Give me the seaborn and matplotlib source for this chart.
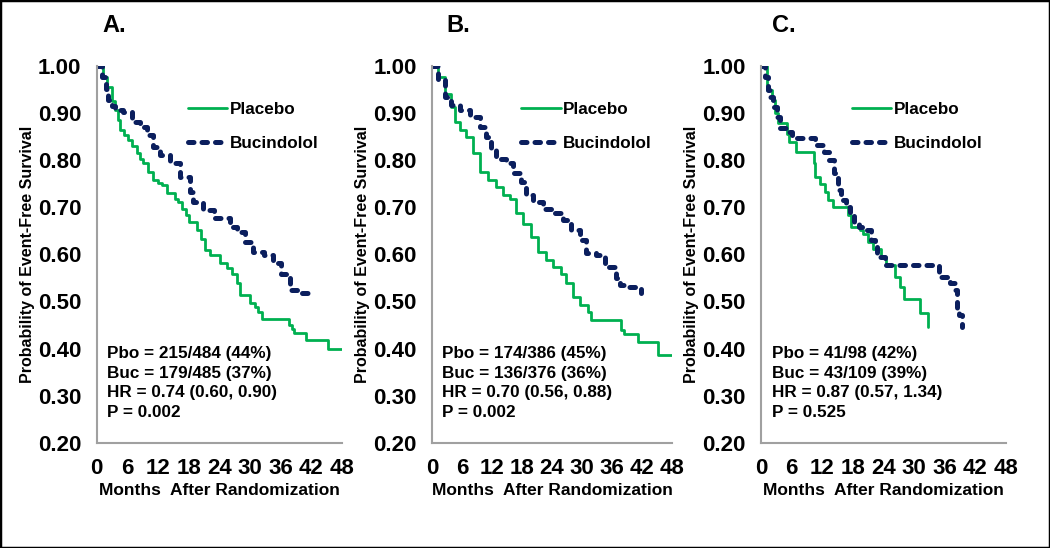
import matplotlib
matplotlib.use("Agg")
import matplotlib.pyplot as plt
import seaborn as sns
import pandas as pd
from matplotlib.patches import Rectangle

# Kaplan-Meier readings (month, survival) per panel
pbo_a_t = [0, 1.2, 2.0, 3.0, 3.6, 4.2, 4.6, 5.4, 6.2, 7.0, 7.8, 8.5, 9.1, 10.0, 11.1, 12.0, 12.7, 13.7,
           15.3, 16.0, 16.7, 17.4, 18.0, 19.6, 20.4, 21.2, 22.2, 24.2, 25.5, 26.5, 27.4, 28.1, 30.0,
           31.0, 31.7, 32.3, 37.6, 38.2, 38.6, 41.0, 45.4, 48.0]
pbo_a_s = [1.0, 0.977, 0.955, 0.925, 0.906, 0.885, 0.863, 0.853, 0.842, 0.830, 0.814, 0.803, 0.793,
           0.775, 0.757, 0.752, 0.747, 0.729, 0.718, 0.710, 0.697, 0.683, 0.669, 0.651, 0.632, 0.609,
           0.598, 0.581, 0.570, 0.559, 0.538, 0.513, 0.496, 0.488, 0.478, 0.462, 0.450, 0.441, 0.434,
           0.419, 0.399, 0.399]
buc_a_t = [0, 1.0, 1.8, 2.3, 3.0, 3.6, 5.2, 6.9, 8.5, 9.8, 11.1, 12.4, 14.4, 16.3, 18.3, 18.9, 20.9,
           22.9, 24.2, 26.1, 27.4, 29.1, 30.7, 32.7, 34.6, 36.2, 37.9, 39.2, 41.8]
buc_a_s = [1.0, 0.977, 0.950, 0.927, 0.915, 0.906, 0.902, 0.881, 0.871, 0.853, 0.828, 0.810, 0.793,
           0.764, 0.733, 0.711, 0.694, 0.676, 0.676, 0.658, 0.648, 0.627, 0.605, 0.598, 0.581, 0.559,
           0.524, 0.517, 0.510]

pbo_b_t = [0, 1.3, 2.6, 3.9, 4.6, 5.6, 6.9, 8.3, 9.6, 11.3, 12.9, 14.2, 15.6, 16.9, 18.2, 19.9, 21.2,
           22.9, 24.2, 25.9, 26.9, 28.2, 29.6, 31.2, 31.9, 37.2, 37.9, 38.5, 41.2, 45.2, 48.0]
pbo_b_s = [1.0, 0.977, 0.941, 0.913, 0.881, 0.863, 0.849, 0.814, 0.775, 0.757, 0.743, 0.726, 0.718,
           0.687, 0.665, 0.637, 0.605, 0.588, 0.573, 0.559, 0.538, 0.510, 0.492, 0.478, 0.460, 0.460,
           0.439, 0.430, 0.414, 0.387, 0.387]
buc_b_t = [0, 1.3, 2.6, 3.9, 5.6, 7.6, 9.6, 10.9, 11.9, 12.9, 14.9, 16.2, 17.9, 18.9, 20.2, 22.2, 24.2,
           26.2, 27.9, 29.6, 30.9, 32.9, 34.6, 36.9, 37.6, 39.5, 40.9, 41.9]
buc_b_s = [1.0, 0.970, 0.934, 0.917, 0.906, 0.892, 0.871, 0.849, 0.821, 0.803, 0.793, 0.772, 0.754,
           0.726, 0.711, 0.697, 0.687, 0.672, 0.651, 0.630, 0.602, 0.598, 0.573, 0.549, 0.535, 0.530,
           0.528, 0.517]

pbo_c_t = [0, 1.2, 2.1, 2.7, 3.4, 5.0, 5.4, 6.8, 10.3, 10.6, 11.6, 12.6, 13.2, 14.2, 17.0, 17.6, 19.4,
           20.1, 21.0, 22.0, 23.5, 24.5, 26.2, 27.2, 28.1, 31.2, 32.7]
pbo_c_s = [1.0, 0.948, 0.927, 0.899, 0.878, 0.856, 0.839, 0.818, 0.793, 0.764, 0.750, 0.733, 0.715,
           0.701, 0.683, 0.658, 0.651, 0.644, 0.627, 0.612, 0.595, 0.577, 0.552, 0.531, 0.506, 0.476,
           0.446]
buc_c_t = [0, 0.8, 1.4, 1.8, 2.4, 3.1, 3.7, 5.4, 6.0, 7.0, 10.5, 12.3, 13.4, 14.4, 15.1, 15.7, 16.6,
           17.4, 18.3, 19.3, 20.5, 21.6, 22.3, 22.7, 24.4, 35.0, 37.0, 38.0, 38.4, 38.9, 39.4]
buc_c_s = [1.0, 0.977, 0.948, 0.934, 0.913, 0.892, 0.867, 0.860, 0.853, 0.846, 0.832, 0.817, 0.799,
           0.772, 0.736, 0.715, 0.701, 0.687, 0.669, 0.658, 0.651, 0.630, 0.616, 0.595, 0.577, 0.552,
           0.538, 0.524, 0.485, 0.471, 0.446]

panel_titles = ["A.", "B.", "C."]
stats_text = [
    ["Pbo = 215/484 (44%)", "Buc = 179/485 (37%)", "HR = 0.74 (0.60, 0.90)", "P = 0.002"],
    ["Pbo = 174/386 (45%)", "Buc = 136/376 (36%)", "HR = 0.70 (0.56, 0.88)", "P = 0.002"],
    ["Pbo = 41/98 (42%)", "Buc = 43/109 (39%)", "HR = 0.87 (0.57, 1.34)", "P = 0.525"],
]
x_ticks = [0, 6, 12, 18, 24, 30, 36, 42, 48]
y_ticks = [0.2, 0.3, 0.4, 0.5, 0.6, 0.7, 0.8, 0.9, 1.0]

panels = [(pbo_a_t, pbo_a_s, buc_a_t, buc_a_s),
          (pbo_b_t, pbo_b_s, buc_b_t, buc_b_s),
          (pbo_c_t, pbo_c_s, buc_c_t, buc_c_s)]

sns.set_style("white")
plt.rcParams["font.family"] = ["Liberation Sans", "DejaVu Sans"]
plt.rcParams["font.weight"] = "bold"
plt.rcParams["text.color"] = "black"
plt.rcParams["axes.labelcolor"] = "black"

green = "#00B050"
navy = "#0B1F5E"
gray = "#A0A0A0"
dash = (0, (1.1, 1.6))

fig = plt.figure(figsize=(10.5, 5.48), dpi=100)
lefts = [0.0921, 0.4114, 0.7248]
widths = [0.2333, 0.2286, 0.2330]
title_x = [0.025, 0.06, 0.045]

for i, (pt, ps, bt, bs) in enumerate(panels):
    ax = fig.add_axes([lefts[i], 0.192, widths[i], 0.688])
    df_p = pd.DataFrame({"month": pt, "surv": ps})
    df_b = pd.DataFrame({"month": bt, "surv": bs})
    sns.lineplot(data=df_p, x="month", y="surv", ax=ax, color=green, lw=2.0,
                 drawstyle="steps-post", label="Placebo", estimator=None, sort=False)
    sns.lineplot(data=df_b, x="month", y="surv", ax=ax, color=navy, lw=3.6,
                 drawstyle="steps-post", label="Bucindolol", estimator=None, sort=False)
    ax.lines[1].set_linestyle(dash)
    ax.lines[1].set_dash_capstyle("round")

    ax.set_xlim(0, 48)
    ax.set_ylim(0.2, 1.0)
    ax.set_xticks(x_ticks)
    ax.set_yticks(y_ticks)
    ax.set_yticklabels([f"{v:.2f}" for v in y_ticks])
    ax.tick_params(axis="both", which="major", labelsize=16, length=5, width=1.2,
                   color=gray, labelcolor="black", direction="out")
    ax.tick_params(axis="y", pad=6)
    ax.tick_params(axis="x", pad=6)
    for lab in ax.get_xticklabels() + ax.get_yticklabels():
        lab.set_fontweight("bold")
    for side in ["top", "right"]:
        ax.spines[side].set_visible(False)
    for side in ["left", "bottom"]:
        ax.spines[side].set_color(gray)
        ax.spines[side].set_linewidth(1.5)
    ax.set_xlabel("Months  After Randomization", fontsize=12.5, fontweight="bold", labelpad=3)
    ax.set_ylabel("Probability of Event-Free Survival", fontsize=11.5, fontweight="bold",
                  labelpad=2)
    ax.grid(False)

    leg = ax.legend(loc="upper left", bbox_to_anchor=(0.308, 0.945), frameon=False,
                    handlelength=2.3, handletextpad=0.15, labelspacing=1.1,
                    prop={"weight": "bold", "size": 12.3})
    leg.get_lines()[1].set_linestyle(dash)
    leg.get_lines()[1].set_dash_capstyle("round")

    ax.text(0.043, 0.257, "\n".join(stats_text[i]), transform=ax.transAxes,
            fontsize=12.3, fontweight="bold", va="top", ha="left", linespacing=1.4)
    ax.text(title_x[i], 1.108, panel_titles[i], transform=ax.transAxes, fontsize=17,
            fontweight="bold", ha="left", va="center")
    ax.patch.set_alpha(0)

fig.patches.append(Rectangle((0, 0), 1, 1, transform=fig.transFigure, fill=False,
                             edgecolor="black", lw=2.5))

fig.savefig("out.png", dpi=100)
